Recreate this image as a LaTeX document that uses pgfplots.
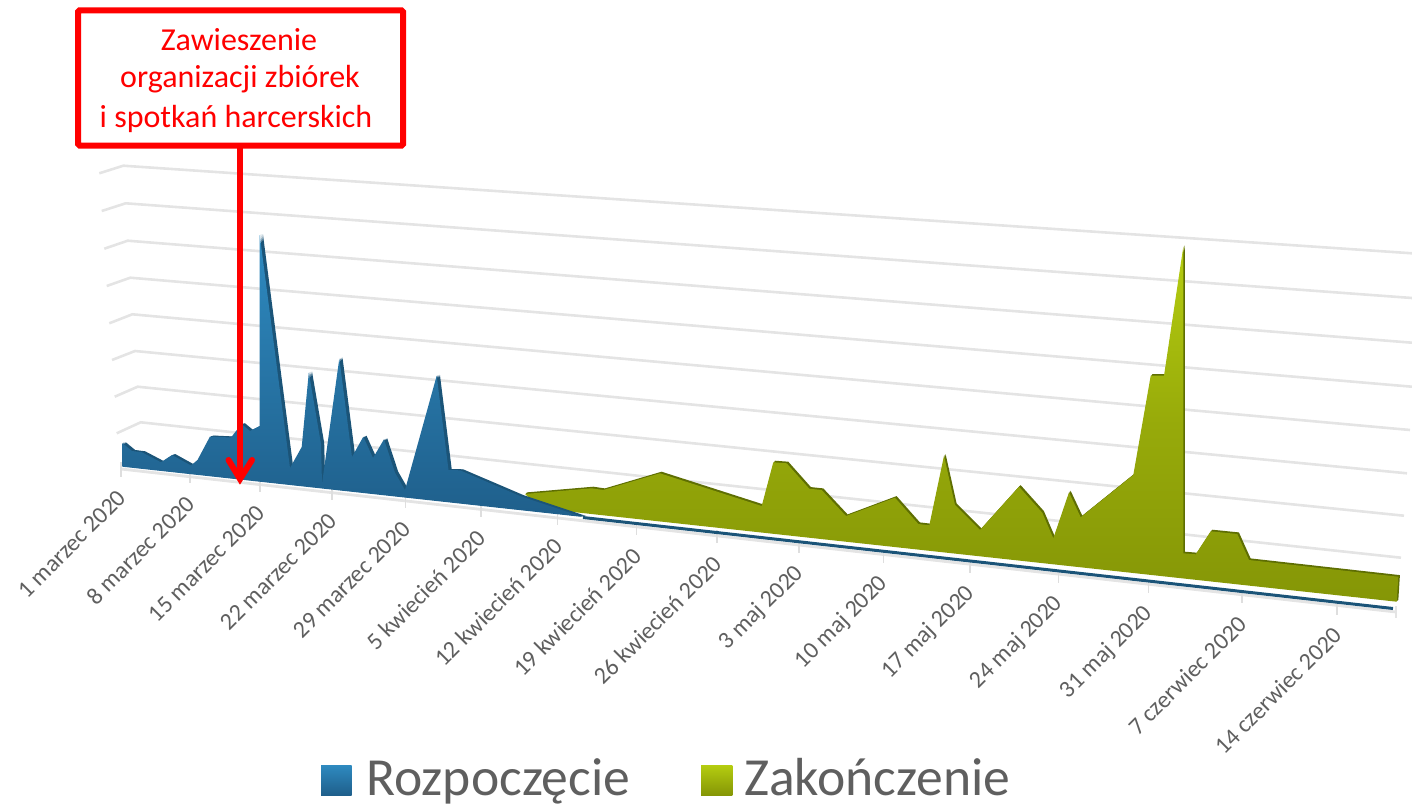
\documentclass[border=0pt]{standalone}
\usepackage{fontspec}
\setmainfont{Carlito}
\usepackage{pgfplots}
\usepackage{pgfplotstable}
\pgfplotsset{compat=1.18}

\definecolor{gridc}{HTML}{E4E4E4}
\definecolor{tickc}{HTML}{DEDEDE}
\definecolor{labelc}{HTML}{5F5F5F}
\definecolor{bluetop}{HTML}{2E8AC0}
\definecolor{bluebot}{HTML}{1F5F8B}
\definecolor{blueedge}{HTML}{1B5478}
\definecolor{greentop}{HTML}{B5CD10}
\definecolor{greenmid}{HTML}{97AA0A}
\definecolor{greenbot}{HTML}{859606}
\definecolor{greenedge}{HTML}{5E6E02}

% outline of each series, in picture pixels (the chart has a perspective view)
\pgfplotstableread{
x y
122.3 466.7
122.3 443
132 451
142 452.3
161 462.3
172 455
191 465.5
197.5 460
210 436.5
231 437.5
241.5 424
250 431
259.7 426
259.7 235
290 468
301.7 447
308.8 372.5
321 444
322 484
339.3 358.5
352 457
363.3 436.7
373 458
384 439.3
395 472.7
405 490
436.7 375.7
448.5 470
460 470.3
520 496
583 517
}\bluetab

\pgfplotstableread{
x y
525 494
591.7 488.3
603.3 490
660 473.3
761.7 506
773.3 462.3
786.7 463.3
809.3 488.7
821.7 490
846 516
895 497.7
918.3 524
929.3 525.3
944 455.7
955 505
980 530
1019 486.7
1042.3 512.7
1053.3 538.3
1069 492.3
1080.7 517.3
1133.3 475
1150.7 375.7
1164 375.7
1183.3 246.7
1183.3 553.3
1195.7 554.3
1210.7 531.3
1237.3 534
1249 560
1398.3 576.7
1396.7 601.7
540 508.4
}\greentab

\begin{document}
\begin{tikzpicture}
\begin{axis}[
    scale only axis,
    width=1412pt,
    height=806pt,
    xmin=0, xmax=1412,
    ymin=0, ymax=806,
    y dir=reverse,
    hide axis,
    unbounded coords=jump,
    /tikz/font=\fontsize{24}{28}\selectfont
]
\path (axis cs:0,0) rectangle (axis cs:1412,806);

% wall and side grid lines
\addplot[gridc, line width=2.6pt] coordinates {
(99.3,173.3) (123.3,165.7) (1412,253.3) (nan,nan)
(101.7,211) (125.7,203.3) (1412,298) (nan,nan)
(104.3,248.7) (127.7,240.7) (1412,342.7) (nan,nan)
(106.7,286) (130.3,277.7) (1412,386.7) (nan,nan)
};
\addplot[gridc, line width=2.6pt] coordinates {
(109.3,323.3) (132.3,314.3) (1410,430) (nan,nan)
(112,360) (135,351) (1407,473.3) (nan,nan)
(114.7,396.7) (137.7,386.7) (1404,515.7) (nan,nan)
(116.7,433.3) (140.7,422.3) (1401,557.7) (nan,nan)
};
% floor edge and ticks
\addplot[gridc, line width=2.8pt] coordinates {(121,469) (1396,612)};
\addplot[gridc, line width=2pt] coordinates {(1396,606) (1396,618)};
\addplot[tickc, line width=1.6pt] coordinates {
(121,462) (121,477) (nan,nan)
(189.7,469) (189.7,483) (nan,nan)
(260,477) (260,492) (nan,nan)
(332,485) (332,500) (nan,nan)
(405.3,493) (405.3,508) (nan,nan)
(480.7,502) (480.7,517) (nan,nan)
(557.5,512) (557.5,525) (nan,nan)
(636.3,522) (636.3,535) (nan,nan)
(716.7,530) (716.7,543) (nan,nan)
(799,540) (799,553) (nan,nan)
(883.3,550) (883.3,563) (nan,nan)
(970,560) (970,573) (nan,nan)
(1058.3,570) (1058.3,583) (nan,nan)
(1148.3,580) (1148.3,593) (nan,nan)
(1241.7,591) (1241.7,603) (nan,nan)
(1336.7,602) (1336.7,615) (nan,nan)
};

% Zakonczenie
\addplot[draw=none, fill=greenedge] table[x expr=\thisrow{x}+0.8, y expr=\thisrow{y}-0.8] {\greentab} --cycle;
\addplot[draw=none, fill=greenedge] table[x expr=\thisrow{x}+1.6, y expr=\thisrow{y}-1.6] {\greentab} --cycle;
\addplot[draw=none, top color=greentop, bottom color=greenbot, middle color=greenmid] table[x=x, y=y] {\greentab} --cycle;

% Rozpoczecie
\addplot[blueedge, line width=3pt] coordinates {(583,517.5) (1393,608.5)};
\addplot[draw=none, fill=blueedge] table[x expr=\thisrow{x}+1.1, y expr=\thisrow{y}-0.4] {\bluetab} --cycle;
\addplot[draw=none, fill=blueedge] table[x expr=\thisrow{x}+2.2, y expr=\thisrow{y}-0.7] {\bluetab} --cycle;
\addplot[draw=none, fill=blueedge] table[x expr=\thisrow{x}+3.2, y expr=\thisrow{y}-1] {\bluetab} --cycle;
\addplot[draw=none, top color=bluetop, bottom color=bluebot] table[x=x, y=y] {\bluetab} --cycle;

% date labels
\begin{scope}[every node/.style={rotate=45, anchor=east, text=labelc, inner sep=0pt}]
\node at (axis cs:122,494) {1 marzec 2020};
\node at (axis cs:190.7,500) {8 marzec 2020};
\node at (axis cs:261,509) {15 marzec 2020};
\node at (axis cs:333,517) {22 marzec 2020};
\node at (axis cs:406.3,525) {29 marzec 2020};
\node at (axis cs:481.7,534) {5 kwiecień 2020};
\node at (axis cs:558.5,542) {12 kwiecień 2020};
\node at (axis cs:637.3,552) {19 kwiecień 2020};
\node at (axis cs:717.7,560) {26 kwiecień 2020};
\node at (axis cs:800,570) {3 maj 2020};
\node at (axis cs:884.3,580) {10 maj 2020};
\node at (axis cs:971,590) {17 maj 2020};
\node at (axis cs:1059.3,600) {24 maj 2020};
\node at (axis cs:1149.3,610) {31 maj 2020};
\node at (axis cs:1242.7,620) {7 czerwiec 2020};
\node at (axis cs:1337.7,631) {14 czerwiec 2020};
\end{scope}

% arrow and callout
\draw[red, line width=6pt] (axis cs:240,146) -- (axis cs:240,478);
\draw[red, line width=6pt, line cap=round, line join=miter]
  (axis cs:228.5,460) -- (axis cs:240,479) -- (axis cs:252,460);
\draw[red, fill=white, line width=6pt, rounded corners=1.5pt]
  (axis cs:78,10.3) rectangle (axis cs:403,145.5);
\begin{scope}[every node/.style={anchor=base, text=red, inner sep=0pt,
    font=\fontsize{32}{38}\selectfont}]
\node at (axis cs:239,50) {Zawieszenie};
\node at (axis cs:240,87.5) {organizacji zbiórek};
\node at (axis cs:236,127) {i spotkań harcerskich};
\end{scope}

% legend
\path[top color=bluetop, bottom color=bluebot] (axis cs:321,765) rectangle (axis cs:351.5,795);
\path[top color=greentop, bottom color=greenbot] (axis cs:701,765) rectangle (axis cs:732.4,795);
\begin{scope}[every node/.style={anchor=base west, text=labelc, inner sep=0pt,
    font=\fontsize{53.6}{62}\selectfont}]
\node at (axis cs:366,795) {Rozpoczęcie};
\node at (axis cs:744,795) {Zakończenie};
\end{scope}
\end{axis}
\end{tikzpicture}
\end{document}
